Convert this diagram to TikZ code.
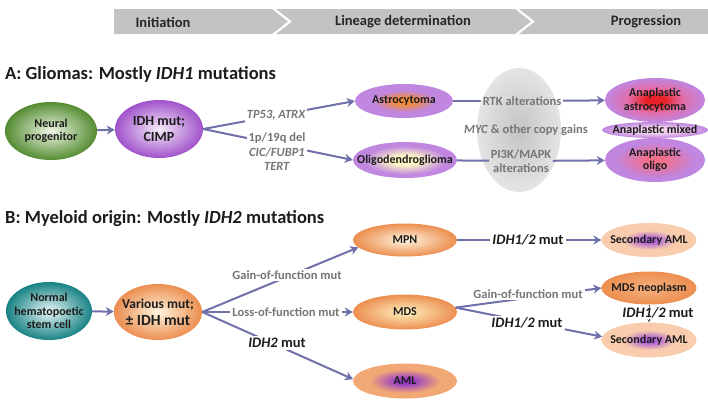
\documentclass[tikz,border=0pt]{standalone}
\usepackage{fontspec}
\setmainfont{Carlito}
\usetikzlibrary{shapes.geometric,arrows.meta}

\definecolor{arrc}{RGB}{112,112,170}
\definecolor{txt}{RGB}{28,28,28}
\definecolor{labgray}{RGB}{118,118,118}
\definecolor{hdrgray}{RGB}{195,195,195}
\definecolor{hdrtxt}{RGB}{38,38,38}
\definecolor{grOut}{RGB}{84,140,50}
\definecolor{grIn}{RGB}{238,246,228}
\definecolor{puOut}{RGB}{160,82,202}
\definecolor{puIn}{RGB}{246,236,250}
\definecolor{lilac}{RGB}{192,134,224}
\definecolor{astroC}{RGB}{240,140,60}
\definecolor{oligoC}{RGB}{252,244,196}
\definecolor{anaRed}{RGB}{232,34,40}
\definecolor{anaPink}{RGB}{226,110,170}
\definecolor{anaMC}{RGB}{240,206,236}
\definecolor{anaOC}{RGB}{240,112,140}
\definecolor{grayIn}{RGB}{196,196,196}
\definecolor{grayOut}{RGB}{228,228,228}
\definecolor{teOut}{RGB}{24,130,132}
\definecolor{teIn}{RGB}{232,246,246}
\definecolor{orOut}{RGB}{236,142,80}
\definecolor{orIn}{RGB}{255,244,222}
\definecolor{mdsIn}{RGB}{255,240,190}
\definecolor{mdsnIn}{RGB}{246,176,126}
\definecolor{peach}{RGB}{248,204,172}
\definecolor{amlPu}{RGB}{176,98,212}
\definecolor{amlOut}{RGB}{242,168,116}
\definecolor{amlPu2}{RGB}{150,60,200}
\definecolor{tarrc}{RGB}{90,90,90}

\pgfdeclareradialshading{shAstro}{\pgfpoint{0bp}{0bp}}{color(0bp)=(astroC); color(5bp)=(astroC); color(16bp)=(lilac); color(25bp)=(lilac); color(50bp)=(lilac)}
\pgfdeclareradialshading{shOligo}{\pgfpoint{0bp}{0bp}}{color(0bp)=(oligoC); color(7bp)=(oligoC); color(20bp)=(lilac); color(25bp)=(lilac); color(50bp)=(lilac)}
\pgfdeclareradialshading{shAnaA}{\pgfpoint{0bp}{0bp}}{color(0bp)=(anaRed); color(5bp)=(anaRed); color(14bp)=(anaPink); color(25bp)=(lilac); color(50bp)=(lilac)}
\pgfdeclareradialshading{shAnaM}{\pgfpoint{0bp}{0bp}}{color(0bp)=(anaMC); color(10bp)=(anaMC); color(25bp)=(lilac); color(50bp)=(lilac)}
\pgfdeclareradialshading{shAnaO}{\pgfpoint{0bp}{0bp}}{color(0bp)=(anaOC); color(5bp)=(anaOC); color(20bp)=(lilac); color(25bp)=(lilac); color(50bp)=(lilac)}
\pgfdeclareradialshading{shSec}{\pgfpoint{0bp}{0bp}}{color(0bp)=(amlPu); color(4bp)=(amlPu); color(14bp)=(peach); color(25bp)=(peach); color(50bp)=(peach)}
\pgfdeclareradialshading{shAml}{\pgfpoint{0bp}{0bp}}{color(0bp)=(amlPu2); color(4bp)=(amlPu2); color(17bp)=(amlOut); color(25bp)=(amlOut); color(50bp)=(amlOut)}
\pgfdeclareradialshading{shMdsn}{\pgfpoint{0bp}{0bp}}{color(0bp)=(mdsnIn); color(25bp)=(orOut); color(50bp)=(orOut)}

\tikzset{
  arr/.style={draw=arrc, line width=2pt, -{Stealth[length=8pt,width=9pt,inset=2.5pt]}},
  ln/.style={draw=arrc, line width=2pt},
  tarr/.style={draw=tarrc, line width=0.5pt, -{Stealth[length=3pt,width=3pt]}},
  ell/.style={ellipse, inner sep=0pt, draw=none},
  lab/.style={font=\bfseries\fontsize{12}{13.5}\selectfont, text=txt, align=center},
  glab/.style={font=\bfseries\fontsize{12.5}{14.5}\selectfont, text=labgray, align=center, inner sep=1.5pt},
  wlab/.style={fill=white, inner sep=2pt},
  blab/.style={font=\bfseries\fontsize{14.5}{16}\selectfont, text=txt, inner sep=1.5pt},
  hdr/.style={fill=hdrgray},
  hdrlab/.style={font=\bfseries\fontsize{14.5}{16}\selectfont, text=hdrtxt},
  ttl/.style={font=\bfseries\fontsize{18.5}{20}\selectfont, text=txt, anchor=west, inner sep=0pt}
}

\begin{document}
\begin{tikzpicture}[x=1pt,y=-1pt]
\useasboundingbox (0,0) rectangle (708,400);

% header band
\fill[hdr] (114,9) -- (272,9) -- (288,21.5) -- (272,34) -- (114,34) -- cycle;
\fill[hdr] (276,9) -- (515,9) -- (531,21.5) -- (515,34) -- (276,34) -- (292,21.5) -- cycle;
\fill[hdr] (519,9) -- (708,9) -- (708,34) -- (519,34) -- (535,21.5) -- cycle;
\node[hdrlab] (h1) at (163,22) {Initiation};
\node[hdrlab] (h2) at (403,22) {Lineage determination};
\node[hdrlab] (h3) at (646,22) {Progression};

% titles
\node[ttl] (tA) at (5,74) {A: Gliomas: Mostly \textit{IDH1} mutations};
\node[ttl] (tB) at (5,219) {B: Myeloid origin: Mostly \textit{IDH2} mutations};

% ---------- A ----------
\node[ell, shade, inner color=grayIn, outer color=grayOut, minimum width=84pt, minimum height=124pt] (grayell) at (519,130) {};

\node[ell, shade, inner color=grIn, outer color=grOut, minimum width=92pt, minimum height=58pt,
  label={[lab]center:Neural\\progenitor}] (neural) at (51,131) {};
\node[ell, shade, inner color=puIn, outer color=puOut, minimum width=88pt, minimum height=58pt,
  label={[lab, font=\bfseries\fontsize{14}{16}\selectfont]center:IDH mut;\\CIMP}] (idh) at (159,129) {};
\node[ell, shade, shading=shAstro, minimum width=98pt, minimum height=34pt,
  label={[lab]center:Astrocytoma}] (astro) at (404,101) {};
\node[ell, shade, shading=shOligo, minimum width=104pt, minimum height=36pt,
  label={[lab]center:Oligodendroglioma}] (oligo) at (405,160) {};
\node[ell, shade, shading=shAnaA, minimum width=100pt, minimum height=44pt,
  label={[lab]center:Anaplastic\\astrocytoma}] (anaA) at (655,100) {};
\node[ell, shade, shading=shAnaM, minimum width=106pt, minimum height=16pt,
  label={[lab]center:Anaplastic mixed}] (anaM) at (655,130) {};
\node[ell, shade, shading=shAnaO, minimum width=100pt, minimum height=44pt,
  label={[lab]center:Anaplastic\\oligo}] (anaO) at (655,160) {};

\draw[arr] (neural) -- (idh);
\draw[arr] (idh.east) -- (astro.west);
\draw[arr] (idh.east) -- (oligo.west);
\node[glab, wlab, font=\bfseries\itshape\fontsize{12.5}{14.5}\selectfont] (tp) at (276,115) {TP53, ATRX};
\node[glab, wlab] (del) at (277,152) {1p/19q del\\\textit{CIC/FUBP1}\\\textit{TERT}};

\node[glab] (rtk) at (522,101) {RTK alterations};
\node[glab] (myc) at (526,130) {\textit{MYC} \& other copy gains};
\node[glab] (pi) at (521,161) {PI3K/MAPK\\alterations};
\draw[ln] (astro) -- (rtk);
\draw[arr] (rtk) -- (anaA);
\draw[ln] (oligo) -- (pi);
\draw[arr] (pi) -- (anaO);

% ---------- B ----------
\node[ell, shade, inner color=teIn, outer color=teOut, minimum width=86pt, minimum height=58pt,
  label={[lab]center:Normal\\hematopoetic\\stem cell}] (normal) at (49,311) {};
\node[ell, shade, inner color=orIn, outer color=orOut, minimum width=88pt, minimum height=56pt,
  label={[lab, font=\bfseries\fontsize{13.5}{17}\selectfont]center:Various mut;\\{\fontsize{15.5}{17}\selectfont ± IDH mut}}] (various) at (158,312) {};
\node[ell, shade, inner color=orIn, outer color=orOut, minimum width=104pt, minimum height=33pt,
  label={[lab]center:MPN}] (mpn) at (405,240) {};
\node[ell, shade, inner color=mdsIn, outer color=orOut, minimum width=104pt, minimum height=35pt,
  label={[lab]center:MDS}] (mds) at (405,312) {};
\node[ell, shade, shading=shAml, minimum width=104pt, minimum height=35pt,
  label={[lab]center:AML}] (aml) at (405,381) {};
\node[ell, shade, shading=shSec, minimum width=95pt, minimum height=34pt,
  label={[lab]center:Secondary AML}] (sec1) at (649,240) {};
\node[ell, shade, shading=shMdsn, minimum width=95pt, minimum height=33pt,
  label={[lab]center:MDS neoplasm}] (mdsn) at (649,288) {};
\node[ell, shade, shading=shSec, minimum width=95pt, minimum height=35pt,
  label={[lab]center:Secondary AML}] (sec2) at (649,340) {};

\draw[arr] (normal) -- (various);
\draw[arr] (various.east) -- (mpn.189);
\draw[arr] (various.east) -- (mds);
\draw[arr] (various.east) -- (aml.178);
\node[glab, wlab] (gain1) at (287,275) {Gain-of-function mut};
\node[glab, wlab] (loss) at (286,312) {Loss-of-function mut};
\node[blab, wlab] (idh2) at (277,343) {\textit{IDH2} mut};

\draw[arr] (mpn) -- (sec1);
\draw[arr] (mds.5) -- (mdsn.west);
\draw[arr] (mds.5) -- (sec2.176);
\draw[tarr] (mdsn) -- (sec2);
\node[blab, wlab] (idhA) at (528,240) {\textit{IDH1/2} mut};
\node[glab, wlab] (gain2) at (528,294) {Gain-of-function mut};
\node[blab, wlab] (idhB) at (527,323) {\textit{IDH1/2} mut};
\node[blab, fill=white, inner sep=0.5pt] (idhC) at (658,313) {\textit{IDH1/2} mut};
\end{tikzpicture}
\end{document}
